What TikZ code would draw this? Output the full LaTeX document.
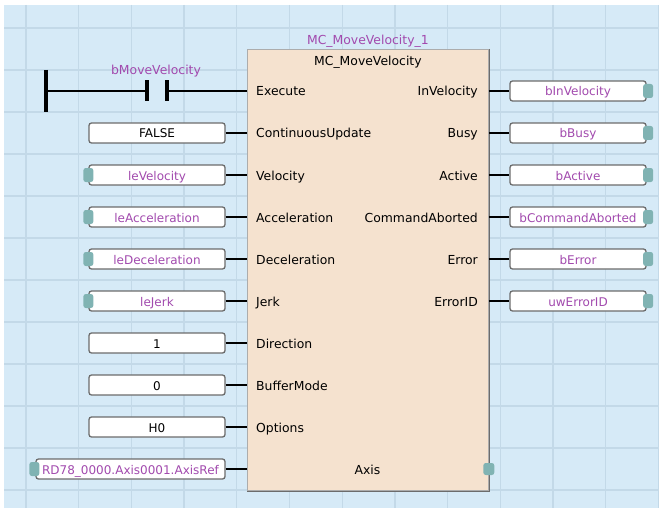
\documentclass[tikz,border=0pt]{standalone}
\usepackage{fontspec}
\setmainfont{DejaVu Sans}
\usetikzlibrary{positioning}

\definecolor{sheetbg}{HTML}{D6EAF7}
\definecolor{sheetgrid}{HTML}{C3D9E8}
\definecolor{fbfill}{HTML}{F5E2CF}
\definecolor{varpurple}{HTML}{A24AAE}
\definecolor{nubteal}{HTML}{80B3B3}

\begin{document}
\begin{tikzpicture}[x=1pt, y=-1pt,
    every node/.style={font=\fontsize{12.4}{14}\selectfont, inner sep=0pt, text height=11pt, text depth=1pt},
    fblock/.style={rectangle, draw=gray!65, line width=0.8pt, fill=fbfill},
    varbox/.style={rectangle, rounded corners=2.5pt, draw=gray!85!black, line width=1.3pt, fill=white, minimum width=136pt, minimum height=20pt, text=varpurple, font=\fontsize{12}{14}\selectfont},
    constbox/.style={varbox, text=black},
    varlabel/.style={text=varpurple},
    pinin/.style={anchor=west},
    pinout/.style={anchor=east},
    nub/.style={rectangle, rounded corners=2.5pt, fill=nubteal, minimum width=10pt, minimum height=14pt},
    wire/.style={line width=2.7pt, black},
    bar/.style={line width=3.2pt, black},
    gridline/.style={line width=1.3pt, sheetgrid}
]

\useasboundingbox (0,0) rectangle (661,508);
\fill[white] (0,0) rectangle (661,508);
\fill[sheetbg] (4,5) rectangle (659,508);

% sheet grid
\foreach \i in {0,...,12} {
  \draw[gridline] ({26+52.7*\i},5) -- ({26+52.7*\i},508);
}
\foreach \j in {0,...,11} {
  \draw[gridline] (4,{28+42*\j}) -- (659,{28+42*\j});
}

% function block
\node[fblock, anchor=north west, minimum width=241pt, minimum height=441pt] (fb) at (247,49) {};
\draw[line width=1.6pt, gray!85!black] ([xshift=0.6pt]fb.north east) -- ([xshift=0.6pt, yshift=-0.6pt]fb.south east) -- ([yshift=-0.6pt]fb.south west);
\node[varlabel, above=3pt of fb] (inst) {MC\_MoveVelocity\_1};
\node[below=5pt of fb.north] (fbtype) {MC\_MoveVelocity};

% input pins
\node[pinin] (pExec) at (256,91) {Execute};
\node[pinin] (pCont) at (256,133) {ContinuousUpdate};
\node[pinin] (pVel) at (256,175) {Velocity};
\node[pinin] (pAcc) at (256,217) {Acceleration};
\node[pinin] (pDec) at (256,259) {Deceleration};
\node[pinin] (pJerk) at (256,301) {Jerk};
\node[pinin] (pDir) at (256,343) {Direction};
\node[pinin] (pBuf) at (256,385) {BufferMode};
\node[pinin] (pOpt) at (256,427) {Options};
\node (pAxis) at (367.5,469) {Axis};

% output pins
\node[pinout] (pInVel) at (478,91) {InVelocity};
\node[pinout] (pBusy) at (478,133) {Busy};
\node[pinout] (pActive) at (478,175) {Active};
\node[pinout] (pAbort) at (478,217) {CommandAborted};
\node[pinout] (pError) at (478,259) {Error};
\node[pinout] (pErrID) at (478,301) {ErrorID};

% contact on Execute
\coordinate (rail) at (46,91);
\coordinate (ctL) at (147,91);
\coordinate (ctR) at (167,91);
\draw[wire] (rail) -- (ctL);
\draw[wire] (ctR) -- (ctR -| fb.west);
\draw[bar] ([yshift=21pt]rail) -- ([yshift=-21pt]rail);
\draw[bar] ([yshift=10.5pt]ctL) -- ([yshift=-10.5pt]ctL);
\draw[bar] ([yshift=10.5pt]ctR) -- ([yshift=-10.5pt]ctR);
\node[varlabel] (vMove) at (156,70) {bMoveVelocity};

% input variables
\node[constbox] (vFalse) at (157,133) {FALSE};
\node[varbox] (vVel) at (157,175) {leVelocity};
\node[varbox] (vAcc) at (157,217) {leAcceleration};
\node[varbox] (vDec) at (157,259) {leDeceleration};
\node[varbox] (vJerk) at (157,301) {leJerk};
\node[constbox] (vDir) at (157,343) {1};
\node[constbox] (vBuf) at (157,385) {0};
\node[constbox] (vOpt) at (157,427) {H0};
\node[varbox, minimum width=189pt] (vAxis) at (130.5,469) {RD78\_0000.Axis0001.AxisRef};

\node[nub] (nVel) at (vVel.west) {};
\node[nub] (nAcc) at (vAcc.west) {};
\node[nub] (nDec) at (vDec.west) {};
\node[nub] (nJerk) at (vJerk.west) {};
\node[nub] (nAxis) at ([xshift=-1pt]vAxis.west) {};

\draw[wire] (vFalse.east) -- (vFalse.east -| fb.west);
\draw[wire] (vVel.east) -- (vVel.east -| fb.west);
\draw[wire] (vAcc.east) -- (vAcc.east -| fb.west);
\draw[wire] (vDec.east) -- (vDec.east -| fb.west);
\draw[wire] (vJerk.east) -- (vJerk.east -| fb.west);
\draw[wire] (vDir.east) -- (vDir.east -| fb.west);
\draw[wire] (vBuf.east) -- (vBuf.east -| fb.west);
\draw[wire] (vOpt.east) -- (vOpt.east -| fb.west);
\draw[wire] (vAxis.east) -- (vAxis.east -| fb.west);

% output variables
\node[varbox] (vInVel) at (578,91) {bInVelocity};
\node[varbox] (vBusy) at (578,133) {bBusy};
\node[varbox] (vActive) at (578,175) {bActive};
\node[varbox] (vAbort) at (578,217) {bCommandAborted};
\node[varbox] (vError) at (578,259) {bError};
\node[varbox] (vErrID) at (578,301) {uwErrorID};

\node[nub] (nInVel) at ([xshift=1.5pt]vInVel.east) {};
\node[nub] (nBusy) at ([xshift=1.5pt]vBusy.east) {};
\node[nub] (nActive) at ([xshift=1.5pt]vActive.east) {};
\node[nub] (nAbort) at ([xshift=1.5pt]vAbort.east) {};
\node[nub] (nError) at ([xshift=1.5pt]vError.east) {};
\node[nub] (nErrID) at ([xshift=1.5pt]vErrID.east) {};
\node[nub, minimum width=11pt, minimum height=12pt] (nAxisOut) at (fb.east |- pAxis) {};

\draw[wire] (vInVel.west -| fb.east) -- (vInVel.west);
\draw[wire] (vBusy.west -| fb.east) -- (vBusy.west);
\draw[wire] (vActive.west -| fb.east) -- (vActive.west);
\draw[wire] (vAbort.west -| fb.east) -- (vAbort.west);
\draw[wire] (vError.west -| fb.east) -- (vError.west);
\draw[wire] (vErrID.west -| fb.east) -- (vErrID.west);

\end{tikzpicture}
\end{document}
